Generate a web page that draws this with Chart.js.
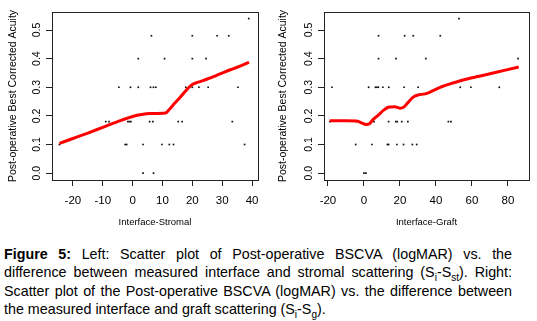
<!DOCTYPE html>
<html lang="en">
<head>
<meta charset="UTF-8">
<title>Figure 5</title>
<style>
    body {
        margin: 0;
        width: 537px;
        height: 321px;
        position: relative;
        overflow: hidden;
        background: #fff;
        font-family: Arial, "Liberation Sans", sans-serif;
        color: #000;
    }
    .plot { position: absolute; top: 0; }
    #leftPlot { left: 0; }
    #rightPlot { left: 270px; }
    #caption {
        position: absolute;
        left: 4px;
        top: 245px;
        width: 508px;
        font-size: 14.3px;
        line-height: 18.3px;
    }
    #caption .j { text-align: justify; text-align-last: justify; }
    #caption sub { font-size: 10px; vertical-align: -4px; line-height: 0; }
</style>
<script src="https://cdn.jsdelivr.net/npm/chart.js"></script>
</head>
<body>
<canvas id="leftPlot" class="plot" width="270" height="232"></canvas>
<canvas id="rightPlot" class="plot" width="267" height="232"></canvas>
<div id="caption">
    <div class="j"><b>Figure 5:</b> Left: Scatter plot of Post-operative BSCVA (logMAR) vs. the</div>
    <div class="j">difference between measured interface and stromal scattering (S<sub>i</sub>-S<sub>st</sub>). Right:</div>
    <div class="j">Scatter plot of the Post-operative BSCVA (logMAR) vs. the difference between</div>
    <div>the measured interface and graft scattering (S<sub>i</sub>-S<sub>g</sub>).</div>
</div>
<script>
    // Left panel: interface - stromal scattering
    const stromalX = [38.9,
        6.3, 20.0, 28.3, 32.2,
        1.9, 10.7, 20.0, 24.6,
        -4.6, -0.7, 1.9, 6.0, 7.0, 7.8, 17.8, 20.0, 22.2, 25.3, 35.3,
        -9.0, -7.9, -1.6, -1.1, -0.6, 5.7, 6.8, 15.3, 16.6, 33.4,
        -24.5, -2.5, -2.0, 3.5, 9.8, 12.3, 13.7, 37.5,
        3.5, 7.0];
    const stromalY = [0.54,
        0.48, 0.48, 0.48, 0.48,
        0.4, 0.4, 0.4, 0.4,
        0.3, 0.3, 0.3, 0.3, 0.3, 0.3, 0.3, 0.3, 0.3, 0.3, 0.3,
        0.18, 0.18, 0.18, 0.18, 0.18, 0.18, 0.18, 0.18, 0.18, 0.18,
        0.1, 0.1, 0.1, 0.1, 0.1, 0.1, 0.1, 0.1,
        0.0, 0.0];
    const stromalFitX = [-24.5, -20, -15, -10, -5, 0, 3, 6, 11, 12.5, 14, 16, 18, 20, 22, 25, 28, 31, 34, 37, 39];
    const stromalFitY = [0.104, 0.121, 0.140, 0.160, 0.180, 0.198, 0.205, 0.208, 0.21, 0.225, 0.243, 0.266, 0.29, 0.31, 0.318, 0.329, 0.341, 0.354, 0.366, 0.378, 0.387];

    // Right panel: interface - graft scattering
    const graftX = [52.8,
        8.1, 22.6, 27.4, 42.4,
        8.1, 17.8, 34.4, 85.6,
        -17.8, 2.6, 6.4, 7.2, 8.0, 10.5, 13.8, 22.3, 30.1, 53.5, 59.4, 75.2,
        -18.9, -4.0, 5.6, 13.7, 17.7, 18.5, 21.0, 24.4, 46.9, 48.3,
        -4.6, 4.4, 13.0, 13.7, 18.3, 22.0, 26.9, 29.3,
        0.0, 1.1];
    const graftY = [0.54,
        0.48, 0.48, 0.48, 0.48,
        0.4, 0.4, 0.4, 0.4,
        0.3, 0.3, 0.3, 0.3, 0.3, 0.3, 0.3, 0.3, 0.3, 0.3, 0.3, 0.3,
        0.18, 0.18, 0.18, 0.18, 0.18, 0.18, 0.18, 0.18, 0.18, 0.18,
        0.1, 0.1, 0.1, 0.1, 0.1, 0.1, 0.1, 0.1,
        0.0, 0.0];
    const graftFitX = [-19, -10, -4, -1, 1, 3, 5, 8, 11, 13.5, 17, 20, 22, 24, 27, 30, 34, 38, 42, 50, 60, 70, 78, 86];
    const graftFitY = [0.183, 0.183, 0.182, 0.175, 0.170, 0.172, 0.187, 0.203, 0.22, 0.23, 0.232, 0.227, 0.23, 0.243, 0.264, 0.273, 0.277, 0.287, 0.299, 0.316, 0.333, 0.347, 0.359, 0.371];

    const yTicks = [0.0, 0.1, 0.2, 0.3, 0.4, 0.5];

    Chart.defaults.font.family = 'Arial, "Liberation Sans", sans-serif';
    Chart.defaults.color = '#000';

    // box round the plot region and the rotated y tick labels (R style)
    const rFrame = {
        id: 'rFrame',
        afterDraw(chart) {
            const { ctx, chartArea: a, scales: { y } } = chart;
            ctx.save();
            ctx.strokeStyle = '#222';
            ctx.lineWidth = 1;
            ctx.strokeRect(Math.round(a.left) + 0.5, Math.round(a.top) + 0.5,
                Math.round(a.right - a.left), Math.round(a.bottom - a.top));
            ctx.fillStyle = '#000';
            ctx.font = '10.5px Arial, "Liberation Sans", sans-serif';
            ctx.textAlign = 'center';
            ctx.textBaseline = 'middle';
            yTicks.forEach(v => {
                const py = y.getPixelForValue(v);
                ctx.save();
                ctx.translate(a.left - 15, py);
                ctx.rotate(-Math.PI / 2);
                ctx.fillText(v.toFixed(1), 0, 0);
                ctx.restore();
            });
            ctx.restore();
        }
    };

    function pairs(xs, ys) {
        return xs.map((x, i) => ({ x: x, y: ys[i] }));
    }

    function makePlot(id, xs, ys, fx, fy, opts) {
        new Chart(document.getElementById(id), {
            type: 'scatter',
            data: {
                datasets: [{
                    data: pairs(fx, fy),
                    showLine: true,
                    borderColor: '#ff0000',
                    borderWidth: 3,
                    pointRadius: 0,
                    cubicInterpolationMode: 'monotone',
                    order: 0
                }, {
                    data: pairs(xs, ys),
                    pointStyle: 'rect',
                    pointRadius: 1.2,
                    backgroundColor: '#111',
                    borderWidth: 0,
                    order: 1
                }]
            },
            options: {
                responsive: false,
                animation: false,
                events: [],
                layout: { padding: { left: 0, top: 12, right: opts.padRight, bottom: 0 } },
                plugins: { legend: { display: false }, tooltip: { enabled: false } },
                scales: {
                    x: {
                        type: 'linear',
                        min: opts.xMin,
                        max: opts.xMax,
                        afterFit: s => { s.height = 52; },
                        grid: { display: true, drawOnChartArea: false, drawTicks: true, tickLength: 6, color: '#222' },
                        border: { display: true, color: '#222' },
                        ticks: { stepSize: opts.xStep, includeBounds: false, maxRotation: 0, padding: 8, font: { size: 11.5 } },
                        title: { display: true, text: opts.xTitle, font: { size: 9.5 }, padding: { top: 4, bottom: 4 } }
                    },
                    y: {
                        min: -0.024,
                        max: 0.563,
                        afterFit: s => { s.width = opts.yWidth; },
                        grid: { display: true, drawOnChartArea: false, drawTicks: true, tickLength: 6, color: '#222' },
                        border: { display: true, color: '#222' },
                        ticks: { display: false, stepSize: 0.1, includeBounds: false },
                        title: { display: true, text: 'Post-operative Best Corrected Acuity', font: { size: 10.5 }, padding: { top: 7, bottom: 7 } }
                    }
                }
            },
            plugins: [rFrame]
        });
    }

    makePlot('leftPlot', stromalX, stromalY, stromalFitX, stromalFitY,
        { xMin: -27, xMax: 42, xStep: 10, xTitle: 'Interface-Stromal', yWidth: 52, padRight: 12 });
    makePlot('rightPlot', graftX, graftY, graftFitX, graftFitY,
        { xMin: -22.2, xMax: 91.7, xStep: 20, xTitle: 'Interface-Graft', yWidth: 54, padRight: 8 });
</script>
</body>
</html>
